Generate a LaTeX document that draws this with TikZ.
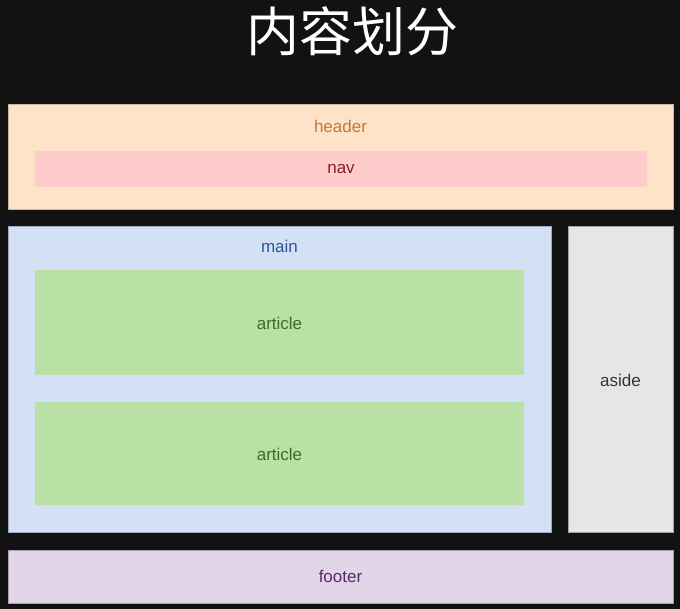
\documentclass[tikz,border=0pt]{standalone}
\usepackage{fontspec}
\setmainfont{Liberation Sans}
\newfontfamily\cjk{Noto Sans CJK SC}
\definecolor{bgdark}{HTML}{121212}
\definecolor{headerfill}{HTML}{FFE3C8}
\definecolor{headertext}{HTML}{C47A33}
\definecolor{navfill}{HTML}{FFCCCC}
\definecolor{navtext}{HTML}{8A1F1F}
\definecolor{mainfill}{HTML}{D4E1F5}
\definecolor{maintext}{HTML}{2B5797}
\definecolor{articlefill}{HTML}{B9E0A5}
\definecolor{articletext}{HTML}{3B6E20}
\definecolor{asidefill}{HTML}{E6E6E6}
\definecolor{asidetext}{HTML}{333333}
\definecolor{footerfill}{HTML}{E1D5E7}
\definecolor{footertext}{HTML}{5B2A6B}
\tikzset{
  region/.style={line width=0.6pt},
  tag/.style={font=\fontsize{17}{19}\selectfont, inner sep=0pt}
}
\begin{document}
\begin{tikzpicture}[x=1pt, y=-1pt]
            % Background of the slide
            \fill [bgdark] (0.000000,0.000000) rectangle (680.000000,609.000000);%
            \useasboundingbox (0.000000,0.000000) rectangle (680.000000,609.000000);%

            % Title
            \node (title) [text=white, inner sep=0pt] at (352.500000,31.500000) {\cjk\fontsize{53}{58}\selectfont 内容划分};%

            % Drawing region header with nav inside
            \draw [region, fill=headerfill, draw=headerfill!80!black] (8.000000,104.000000) rectangle (673.000000,209.000000);%
            \node (header) [tag, text=headertext] at (340.500000,126.000000) {header};%
            \fill [navfill] (35.000000,151.000000) rectangle (647.000000,187.000000);%
            \node (nav) [tag, text=navtext] at (341.000000,169.000000) {nav};%

            % Drawing region main with two articles
            \draw [region, fill=mainfill, draw=mainfill!75!black] (8.000000,226.000000) rectangle (551.000000,532.000000);%
            \node (main) [tag, text=maintext] at (279.500000,246.000000) {main};%
            \fill [articlefill] (35.000000,270.000000) rectangle (524.000000,375.000000);%
            \node (article1) [tag, text=articletext] at (279.500000,323.000000) {article};%
            \fill [articlefill] (35.000000,402.000000) rectangle (524.000000,505.000000);%
            \node (article2) [tag, text=articletext] at (279.500000,454.000000) {article};%

            % Drawing region aside
            \draw [region, fill=asidefill, draw=asidefill!70!black] (568.000000,226.000000) rectangle (673.000000,532.000000);%
            \node (aside) [tag, text=asidetext] at (620.500000,380.000000) {aside};%

            % Drawing region footer
            \draw [region, fill=footerfill, draw=footerfill!75!black] (8.000000,550.000000) rectangle (673.000000,603.000000);%
            \node (footer) [tag, text=footertext] at (340.500000,576.000000) {footer};%
\end{tikzpicture}
\end{document}
